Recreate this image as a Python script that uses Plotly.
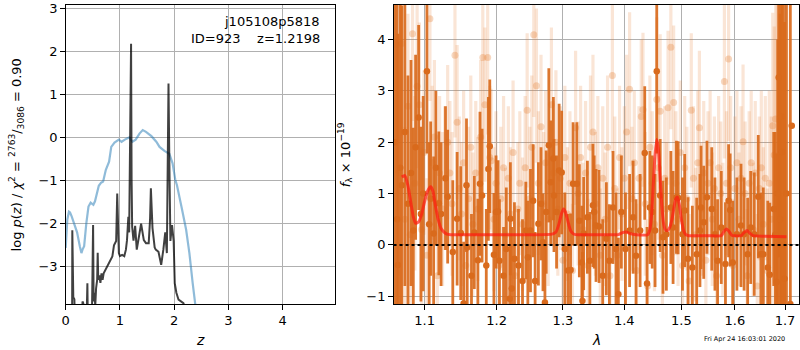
import math
import plotly.graph_objects as go

# ---------------- left panel: redshift PDF ----------------
prior_z = [0.0,0.03,0.06,0.08,0.11,0.15,0.21,0.26,0.29,0.31,0.34,0.38,0.42,0.46,0.49,0.51,0.54,0.59,0.61,0.65,
           0.69,0.74,0.80,0.84,0.90,0.98,1.03,1.09,1.17,1.23,1.29,1.36,1.42,1.48,1.58,1.67,1.73,1.82,1.91,1.97,
           2.02,2.05,2.10,2.14,2.22,2.28,2.34,2.39,2.43]
prior_logp = [-2.56,-1.9,-1.72,-1.74,-1.83,-1.97,-2.2,-2.52,-2.68,-2.6,-2.52,-1.99,-1.6,-1.51,-1.53,-1.56,-1.48,-1.18,-1.12,-1.05,
              -1.02,-0.75,-0.56,-0.22,-0.12,-0.05,-0.1,-0.05,0.0,-0.1,-0.05,0.09,0.17,0.13,0.03,-0.1,-0.22,-0.31,-0.38,-0.6,
              -0.98,-1.1,-1.45,-1.64,-2.14,-2.68,-3.37,-3.85,-4.3]

post_z = [0.10,0.118,0.122,0.127,0.14,0.16,0.175,0.30,0.31,0.325,0.34,0.38,0.40,0.41,0.48,0.505,0.515,0.53,0.545,0.56,
          0.58,0.59,0.60,0.62,0.64,0.66,0.68,0.70,0.74,0.78,0.82,0.86,0.89,0.93,0.95,0.965,0.98,1.00,1.04,1.08,
          1.11,1.13,1.155,1.17,1.19,1.205,1.215,1.225,1.25,1.28,1.31,1.36,1.39,1.44,1.48,1.53,1.555,1.57,1.585,1.60,
          1.64,1.66,1.71,1.76,1.80,1.835,1.865,1.88,1.895,1.91,1.93,1.96,1.99,2.01,2.04,2.08,2.13,2.17,2.20,2.22]
post_logp = [-4.5,-4.5,-2.15,-3.65,-3.7,-3.75,-4.5,-4.5,-3.8,-3.85,-4.5,-4.5,-3.38,-4.5,-4.5,-2.03,-3.8,-3.6,-3.9,-3.5,
             -3.3,-2.67,-3.3,-3.2,-3.37,-3.15,-3.3,-3.15,-3.05,-2.95,-2.85,-2.76,-2.5,-2.4,-1.30,-2.5,-2.68,-2.75,-2.72,-2.75,
             -2.6,-2.38,-1.84,-2.2,0.5,2.17,-1.0,-2.07,-2.39,-2.05,-2.6,-2.2,-2.0,-2.38,-2.45,-2.45,-1.9,-1.18,-1.9,-2.1,
             -2.55,-2.6,-2.65,-2.95,-2.6,-2.2,-2.68,-1.0,1.25,-0.5,-2.4,-2.03,-2.4,-3.38,-3.6,-3.76,-3.8,-3.84,-3.95,-4.5]

z_ticks = [0, 1, 2, 3, 4]
logp_ticks = [-3, -2, -1, 0, 1, 2, 3]

# ---------------- right panel: spectrum ----------------
dark_lam = [1.061,1.064,1.065,1.068,1.070,1.074,1.078,1.082,1.085,1.088,
            1.092,1.095,1.098,1.103,1.106,1.108,1.112,1.115,1.119,1.122,
            1.128,1.131,1.138,1.144,1.149,1.153,1.157,1.158,1.164,1.168,
            1.173,1.176,1.179,1.185,1.188,1.190,1.196,1.199,1.202,1.204,
            1.210,1.214,1.219,1.220,1.222,1.226,1.232,1.238,1.243,1.246,
            1.250,1.254,1.257,1.262,1.266,1.269,1.272,1.274,1.278,1.281,
            1.285,1.286,1.290,1.294,1.298,1.303,1.308,1.312,1.316,1.322,
            1.326,1.330,1.331,1.333,1.339,1.343,1.348,1.350,1.353,1.358,
            1.364,1.370,1.375,1.381,1.386,1.390,1.395,1.402,1.409,1.415,
            1.420,1.427,1.435,1.439,1.444,1.448,1.453,1.456,1.462,1.467,
            1.473,1.481,1.485,1.491,1.494,1.502,1.506,1.512,1.520,1.528,
            1.534,1.536,1.541,1.547,1.556,1.562,1.567,1.574,1.582,1.588,
            1.591,1.596,1.604,1.612,1.618,1.625,1.631,1.638,1.646,1.651,
            1.656,1.665,1.669,1.677,1.680,1.683,1.685,1.687,1.690,1.692,
            1.694,1.697,1.699,1.703,1.711,1.714]
dark_flux = [2.0,0.5,-0.39,1.5,1.16,2.2,0.8,1.4,0.28,1.9,
             2.48,0.6,1.0,3.38,0.4,0.9,0.22,1.5,0.81,0.6,
             1.3,0.94,-0.14,0.51,0.23,-1.14,1.16,-0.05,-0.6,0.24,
             -0.3,1.19,0.96,-0.4,1.48,1.92,-0.19,0.64,0.65,-0.31,
             -0.6,-0.08,-1.05,0.51,-0.85,-0.27,-0.4,-0.7,0.28,-0.24,
             0.28,0.86,-0.7,0.41,0.8,0.05,-1.12,0.64,1.94,1.22,
             1.68,0.96,0.64,1.45,1.41,-0.08,-0.5,-0.49,1.19,1.19,
             0.47,-0.34,-1.09,0.22,0.54,-0.31,0.77,0.64,0.38,0.36,
             -0.6,0.12,-0.31,0.73,-0.08,-0.96,0.64,-0.08,0.28,0.54,
             -0.21,0.28,1.79,-0.75,0.73,0.64,0.28,3.38,0.96,0.15,
             0.21,0.73,0.34,0.93,0.92,0.21,0.67,-0.27,-0.44,-0.18,
             0.28,0.73,0.44,0.93,0.70,0.21,-0.31,0.34,-0.37,0.86,
             0.68,-0.34,0.21,0.38,0.21,-0.18,0.34,0.21,0.94,-0.18,
             -0.18,-0.44,-0.58,0.70,0.2,-0.72,1.0,3.26,0.5,2.5,
             1.81,0.0,-0.66,1.0,-1.15,2.32]
dark_err = [5.0,5.0,4.5,4.0,3.5,3.0,2.5,2.2,2.0,1.8,
            1.8,1.7,1.9,1.6,1.6,1.5,1.5,1.5,1.4,1.4,
            1.4,1.3,1.4,1.3,1.3,1.2,1.3,1.2,1.2,1.1,
            1.2,1.4,1.3,1.1,1.4,1.3,1.2,1.1,1.0,1.2,
            0.95,1.2,0.95,1.1,1.2,1.1,1.1,1.2,0.95,1.1,
            1.2,1.1,0.95,1.2,1.1,0.95,1.1,1.2,1.5,1.2,
            1.2,1.1,1.1,1.3,1.2,1.1,1.1,1.1,1.2,1.2,
            1.1,1.1,0.95,1.1,1.1,0.95,1.2,1.1,1.1,1.1,
            1.1,1.1,1.1,1.1,1.1,1.1,1.1,1.1,1.1,1.1,
            1.1,1.1,1.3,1.1,1.1,1.1,1.1,1.6,1.1,1.1,
            1.1,1.1,1.1,1.1,1.1,1.1,1.1,1.2,1.2,1.1,
            1.1,1.2,1.1,1.1,1.2,1.1,1.2,1.1,1.2,1.1,
            1.1,1.2,1.1,1.2,1.1,1.1,1.1,1.2,1.2,1.2,
            1.3,1.3,1.4,1.5,2.0,2.5,3.0,3.5,4.0,4.0,
            4.0,5.0,5.0,5.0,6.0,0.05]

light_lam = [1.063,1.066,1.070,1.074,1.078,1.081,1.084,1.087,1.090,1.093,
             1.096,1.099,1.103,1.107,1.110,1.113,1.117,1.120,1.124,1.127,
             1.131,1.134,1.137,1.141,1.144,1.147,1.150,1.153,1.156,1.160,
             1.163,1.166,1.170,1.173,1.177,1.180,1.183,1.187,1.190,1.192,
             1.196,1.199,1.203,1.206,1.210,1.213,1.217,1.220,1.224,1.227,
             1.231,1.234,1.238,1.242,1.245,1.249,1.252,1.255,1.259,1.262,
             1.266,1.270,1.273,1.277,1.282,1.285,1.289,1.292,1.296,1.300,
             1.303,1.307,1.311,1.315,1.320,1.324,1.328,1.332,1.336,1.340,
             1.344,1.348,1.352,1.356,1.360,1.364,1.368,1.372,1.376,1.380,
             1.384,1.388,1.392,1.396,1.400,1.404,1.409,1.413,1.417,1.421,
             1.425,1.429,1.432,1.436,1.440,1.444,1.448,1.452,1.456,1.459,
             1.462,1.466,1.470,1.473,1.476,1.481,1.486,1.490,1.494,1.498,
             1.502,1.506,1.510,1.514,1.518,1.522,1.526,1.530,1.533,1.537,
             1.541,1.545,1.549,1.553,1.557,1.561,1.565,1.569,1.573,1.577,
             1.580,1.584,1.588,1.592,1.596,1.600,1.604,1.608,1.612,1.616,
             1.620,1.624,1.628,1.632,1.636,1.640,1.644,1.648,1.652,1.656,
             1.660,1.664,1.668,1.672,1.675,1.678,1.681,1.684,1.688]
light_flux = [3.9,1.4,3.92,0.5,2.7,0.2,4.11,1.2,3.09,2.73,
              0.3,1.8,-0.2,4.4,1.6,2.1,-0.6,1.4,0.7,1.3,
              2.0,1.4,0.8,3.69,2.39,1.1,0.6,1.6,-0.4,0.9,
              1.9,0.4,1.4,0.7,2.1,3.65,2.73,3.65,1.7,1.64,
              0.5,1.2,-0.4,0.9,1.5,0.2,1.3,0.6,1.8,-0.6,
              0.7,1.2,0.4,1.5,2.62,0.9,1.9,4.09,3.1,1.2,
              2.3,0.8,1.6,0.5,2.73,1.4,2.0,0.7,1.3,-0.3,
              1.7,0.6,1.2,-0.5,2.28,1.0,1.7,0.3,1.4,-0.4,
              1.9,2.2,0.8,1.5,-0.2,1.3,0.5,1.9,-0.6,3.3,
              1.1,-0.2,1.7,0.6,1.3,2.2,3.03,0.9,1.6,-0.5,
              1.3,2.5,2.63,0.8,-0.8,1.9,1.2,0.4,2.83,1.5,
              2.6,-0.2,1.3,0.7,2.67,3.85,2.77,1.2,0.5,1.8,
              -0.4,1.5,0.9,-0.7,2.62,1.3,0.2,1.6,2.28,0.7,
              1.4,-0.3,1.2,1.6,0.5,1.1,-0.6,1.5,1.0,0.3,
              3.18,1.2,3.62,1.5,-0.4,1.1,1.6,0.5,1.3,2.01,
              1.0,-0.6,1.2,1.6,0.3,1.4,-0.8,1.1,1.5,0.4,
              1.3,-0.5,1.2,0.5,2.32,1.75,2.45,1.3,0.8]
light_err = [2.5,2.0,1.8,1.8,1.8,1.8,1.7,1.7,1.6,1.6,
             1.6,1.6,1.5,1.6,1.5,1.5,1.5,1.5,1.5,1.4,
             1.5,1.4,1.4,1.6,1.5,1.4,1.4,1.4,1.4,1.4,
             1.4,1.4,1.4,1.4,1.5,1.6,1.5,1.5,1.4,1.4,
             1.4,1.4,1.4,1.4,1.4,1.3,1.4,1.3,1.4,1.3,
             1.3,1.4,1.3,1.4,1.5,1.4,1.4,1.6,1.5,1.4,
             1.4,1.4,1.4,1.3,1.5,1.4,1.4,1.3,1.4,1.3,
             1.4,1.3,1.4,1.3,1.5,1.4,1.4,1.3,1.4,1.3,
             1.4,1.5,1.4,1.4,1.3,1.4,1.3,1.4,1.3,1.5,
             1.4,1.3,1.4,1.3,1.4,1.5,1.5,1.4,1.4,1.3,
             1.4,1.5,1.5,1.4,1.3,1.4,1.4,1.3,1.6,1.4,
             1.5,1.3,1.4,1.3,1.5,1.6,1.5,1.4,1.3,1.4,
             1.3,1.4,1.4,1.3,1.5,1.4,1.3,1.4,1.5,1.3,
             1.4,1.3,1.4,1.4,1.3,1.4,1.3,1.4,1.4,1.3,
             1.5,1.4,1.6,1.4,1.3,1.4,1.4,1.3,1.4,1.5,
             1.4,1.3,1.4,1.4,1.3,1.4,1.4,1.4,1.5,1.5,
             1.6,1.6,1.8,2.0,2.2,2.5,3.0,4.0,5.0]

model_lam = [1.070,1.074,1.078,1.082,1.085,1.088,1.092,1.096,1.100,1.104,
             1.108,1.111,1.114,1.118,1.122,1.126,1.130,1.135,1.14,1.20,
             1.25,1.283,1.289,1.294,1.298,1.301,1.304,1.308,1.312,1.316,
             1.32,1.36,1.39,1.397,1.403,1.41,1.42,1.44,1.444,1.447,
             1.450,1.453,1.456,1.459,1.462,1.465,1.468,1.471,1.475,1.479,
             1.483,1.487,1.490,1.493,1.496,1.500,1.504,1.508,1.513,1.55,
             1.574,1.579,1.584,1.589,1.594,1.60,1.612,1.618,1.624,1.630,
             1.636,1.66,1.703]
model_flux = [1.32,1.35,1.15,0.8,0.55,0.42,0.45,0.6,0.85,1.05,
              1.13,1.05,0.8,0.5,0.32,0.25,0.21,0.2,0.2,0.2,
              0.2,0.21,0.25,0.42,0.62,0.70,0.64,0.45,0.28,0.22,
              0.2,0.2,0.2,0.24,0.25,0.22,0.2,0.2,0.3,0.6,
              1.2,1.75,2.05,1.85,1.3,0.75,0.42,0.3,0.28,0.34,
              0.5,0.75,0.9,0.93,0.8,0.5,0.28,0.2,0.18,0.18,
              0.18,0.26,0.31,0.26,0.19,0.18,0.18,0.24,0.28,0.22,
              0.18,0.17,0.16]

lam_ticks = [1.1, 1.2, 1.3, 1.4, 1.5, 1.6, 1.7]
lam_ticktext = ["1.1", "1.2", "1.3", "1.4", "1.5", "1.6", "1.7"]
flux_ticks = [-1, 0, 1, 2, 3, 4]

for a, b in [(prior_z, prior_logp), (post_z, post_logp), (dark_lam, dark_flux), (dark_lam, dark_err),
             (light_lam, light_flux), (light_lam, light_err), (model_lam, model_flux)]:
    assert len(a) == len(b), (len(a), len(b))

FONT = "DejaVu Sans"
DARK = "rgb(217,106,28)"
LIGHT = "rgba(230,125,50,0.2)"

fig = go.Figure()

fig.add_trace(go.Scatter(x=prior_z, y=prior_logp, mode="lines",
                         line=dict(color="rgba(31,119,180,0.5)", width=2.2),
                         xaxis="x", yaxis="y", showlegend=False, hoverinfo="skip"))
fig.add_trace(go.Scatter(x=post_z, y=post_logp, mode="lines",
                         line=dict(color="rgba(0,0,0,0.75)", width=2),
                         xaxis="x", yaxis="y", showlegend=False, hoverinfo="skip"))

fig.add_trace(go.Scatter(x=light_lam, y=light_flux, mode="markers",
                         marker=dict(color="rgba(230,125,50,0.3)", size=7, line=dict(width=0)),
                         error_y=dict(type="data", array=light_err, visible=True,
                                      color=LIGHT, thickness=3.2, width=0),
                         xaxis="x2", yaxis="y2", showlegend=False, hoverinfo="skip"))
fig.add_trace(go.Scatter(x=dark_lam, y=dark_flux, mode="markers",
                         marker=dict(color=DARK, size=6.5, line=dict(width=0)),
                         error_y=dict(type="data", array=dark_err, visible=True,
                                      color="rgba(217,106,28,0.92)", thickness=2.8, width=0),
                         xaxis="x2", yaxis="y2", showlegend=False, hoverinfo="skip"))
fig.add_trace(go.Scatter(x=model_lam, y=model_flux, mode="lines",
                         line=dict(color="rgba(255,25,15,0.7)", width=3, shape="spline", smoothing=0.6),
                         xaxis="x2", yaxis="y2", showlegend=False, hoverinfo="skip"))

axis_common = dict(showline=True, mirror=True, linecolor="black", linewidth=1,
                   ticks="outside", ticklen=4.5, tickwidth=1, tickcolor="black",
                   showgrid=True, gridcolor="#b0b0b0", gridwidth=1, zeroline=False,
                   tickfont=dict(family=FONT, size=13, color="black"))

fig.update_layout(
    width=800, height=350,
    margin=dict(l=0, r=0, t=5, b=46),
    paper_bgcolor="white", plot_bgcolor="white",
    font=dict(family=FONT, size=13, color="black"),
    xaxis=dict(domain=[62/800, 333/800], range=[0, 4.97], tickvals=z_ticks, anchor="y", **axis_common),
    yaxis=dict(range=[-3.86, 3.07], tickvals=logp_ticks, anchor="x", **axis_common),
    xaxis2=dict(domain=[391.5/800, 799/800], type="log",
                range=[math.log10(1.0594), math.log10(1.729)],
                tickvals=lam_ticks, ticktext=lam_ticktext, anchor="y2", **axis_common),
    yaxis2=dict(range=[-1.15, 4.67], tickvals=flux_ticks, anchor="x2", **axis_common),
    shapes=[dict(type="line", xref="x2 domain", x0=0, x1=1, yref="y2", y0=0, y1=0,
                 line=dict(color="black", width=2, dash="dot"), layer="above")],
    annotations=[
        dict(text="j105108p5818", xref="x", x=4.72, yref="paper", y=(304-22)/299,
             xanchor="right", yanchor="middle", showarrow=False, font=dict(size=13)),
        dict(text="ID=923\u00a0\u00a0\u00a0\u00a0z=1.2198", xref="x", x=4.72, yref="paper", y=(304-38)/299,
             xanchor="right", yanchor="middle", showarrow=False, font=dict(size=13)),
        dict(text="log <i>p</i>(<i>z</i>) / <i>χ</i><sup>2</sup> = <sup>2763</sup>/<sub>3086</sub> = 0.90",
             xref="paper", x=12/800, yref="paper", y=0.5, textangle=-90,
             xanchor="center", yanchor="middle", showarrow=False, font=dict(size=13)),
        dict(text="<i>f</i><sub>λ</sub> × 10<sup>−19</sup>",
             xref="paper", x=343/800, yref="paper", y=(304-155)/299, textangle=-90,
             xanchor="center", yanchor="middle", showarrow=False, font=dict(size=13)),
        dict(text="<i>z</i>", xref="paper", x=197/800, yref="paper", y=(304-340)/299,
             xanchor="center", yanchor="middle", showarrow=False, font=dict(size=14)),
        dict(text="<i>λ</i>", xref="paper", x=595/800, yref="paper", y=(304-340)/299,
             xanchor="center", yanchor="middle", showarrow=False, font=dict(size=14)),
        dict(text="Fri Apr 24 16:03:01 2020", xref="paper", x=787/800, yref="paper", y=(304-339)/299,
             xanchor="right", yanchor="middle", showarrow=False, font=dict(size=6.5)),
    ],
)

fig.write_html("out.html",
               config={"displayModeBar": False},
               post_script="document.body.style.margin='0';document.body.style.padding='0';"
                           "document.body.style.overflow='hidden';")
